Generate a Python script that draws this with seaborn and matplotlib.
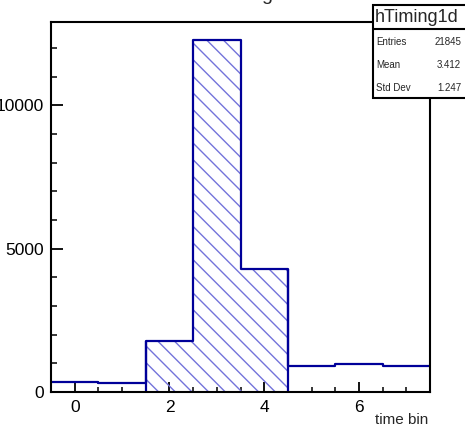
import numpy as np
import pandas as pd
import matplotlib
matplotlib.use("Agg")
import matplotlib.pyplot as plt
from matplotlib.patches import Rectangle
from matplotlib.ticker import MultipleLocator
import seaborn as sns

# ---- data ----
bin_centers = [0, 1, 2, 3, 4, 5, 6, 7]
counts = [360, 300, 1787, 12290, 4296, 892, 962, 916]
hatched_bins = [2, 3, 4]
bin_edges = [-0.5, 0.5, 1.5, 2.5, 3.5, 4.5, 5.5, 6.5, 7.5]
x_ticks = [0, 2, 4, 6]
y_ticks = [0, 5000, 10000]
hist_name = "hTiming1d"
stat_names = ["Entries", "Mean", "Std Dev"]
stat_values = ["21845", "3.412", "1.247"]
title_text = "Timing"
x_label = "time bin"

sns.set_style("white")
plt.rcParams["font.family"] = ["Liberation Sans", "DejaVu Sans"]
plt.rcParams["hatch.linewidth"] = 1.0

W, H = 465, 428
fig = plt.figure(figsize=(W / 100, H / 100), dpi=100)
ax = fig.add_axes([51 / W, 1 - 392 / H, (430 - 51) / W, (392 - 22) / H])

df = pd.DataFrame({"x": bin_centers, "w": counts})
dfh = df[df["x"].isin(hatched_bins)]
h_edges = bin_edges[hatched_bins[0]:hatched_bins[-1] + 2]

line_col = "#000099"
hatch_col = "#7373da"

# hatched part
sns.histplot(data=dfh, x="x", weights="w", bins=h_edges, element="bars",
             fill=True, ax=ax, linewidth=0)
for p in ax.patches:
    p.set_facecolor("none")
    p.set_edgecolor(hatch_col)
    p.set_hatch("\\\\")
    p.set_linewidth(0)

# outline of whole histogram
sns.histplot(data=df, x="x", weights="w", bins=bin_edges, element="step",
             fill=False, ax=ax, color=line_col, linewidth=1.6)
# side edges of the hatched histogram
ax.vlines([h_edges[0], h_edges[-1]], 0,
          [dfh["w"].iloc[0], dfh["w"].iloc[-1]], color=line_col, linewidth=1.6)

ax.set_xlim(bin_edges[0], bin_edges[-1])
ax.set_ylim(0, 1.05 * max(counts))
ax.set_xlabel("")
ax.set_ylabel("")
ax.set_xticks(x_ticks)
ax.set_yticks(y_ticks)
ax.set_yticklabels([str(v) for v in y_ticks])
ax.xaxis.set_minor_locator(MultipleLocator(0.5))
ax.yaxis.set_minor_locator(MultipleLocator(1000))
ax.tick_params(axis="x", which="major", direction="in", length=7.2, width=1.3,
               labelsize=12.5, pad=6, colors="black")
ax.tick_params(axis="x", which="minor", direction="in", length=3.6, width=1.3)
ax.tick_params(axis="y", which="major", direction="in", length=8.5, width=1.3,
               labelsize=12.5, pad=5, colors="black")
ax.tick_params(axis="y", which="minor", direction="in", length=4.3, width=1.3)
ax.tick_params(bottom=True, left=True, top=False, right=False, which="both")
for s in ax.spines.values():
    s.set_visible(True)
    s.set_color("black")
    s.set_linewidth(1.5)

# x label
fig.text(428 / W, 1 - 424 / H, x_label, ha="right", va="baseline", fontsize=11)

# title (mostly off the top of the canvas)
fig.text(274 / W, 1 - 0.5 / H, title_text, ha="right", va="baseline", fontsize=14)

# stats box
box = Rectangle((373 / W, 1 - 98 / H), (475 - 373) / W, (98 - 5) / H,
                transform=fig.transFigure, facecolor="white", edgecolor="black",
                linewidth=1.5, zorder=10, clip_on=False)
fig.patches.append(box)
fig.add_artist(plt.Line2D([373 / W, 1.02], [1 - 29 / H, 1 - 29 / H],
                          transform=fig.transFigure, color="black", linewidth=1.5,
                          zorder=11))
fig.text(375 / W, 1 - 17 / H, hist_name, ha="left", va="center", fontsize=13,
         zorder=12)
row_y = [42, 65, 88]
for n, v, yy in zip(stat_names, stat_values, row_y):
    fig.text(376 / W, 1 - yy / H, n, ha="left", va="center", fontsize=7, zorder=12)
    fig.text(461 / W, 1 - yy / H, v, ha="right", va="center", fontsize=7, zorder=12)

fig.savefig("out.png", dpi=100)
